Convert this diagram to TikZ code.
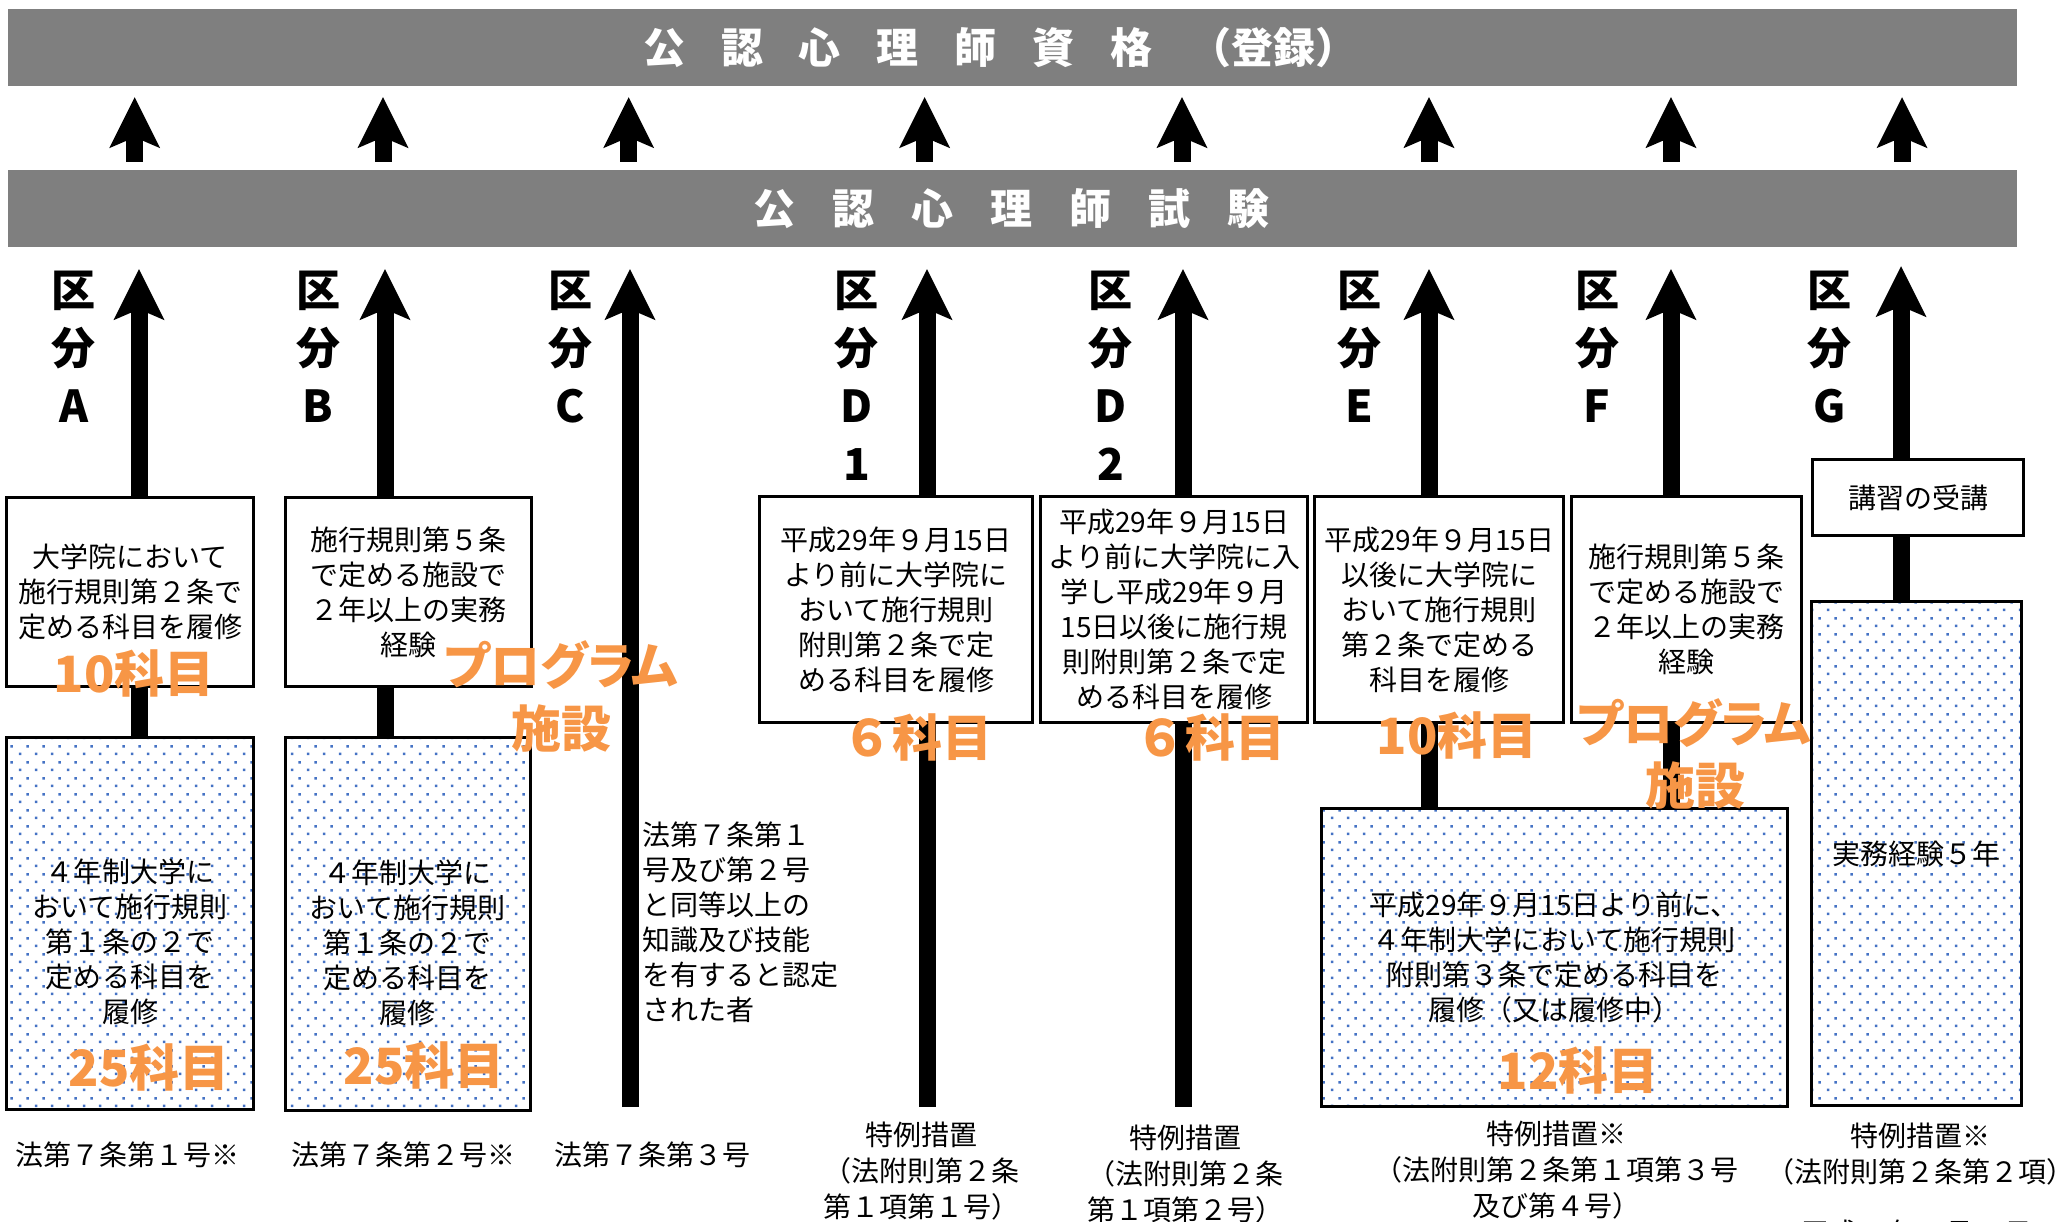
\documentclass[tikz,border=0pt]{standalone}
\usepackage{fontspec}
\setmainfont{Noto Sans CJK JP}
\newfontfamily\jpp{Noto Sans CJK JP}[RawFeature=+palt]
\usetikzlibrary{arrows.meta,patterns.meta,calc}
\definecolor{barg}{RGB}{127,127,127}
\definecolor{orng}{RGB}{247,150,70}
\definecolor{dotblue}{RGB}{68,114,196}
\tikzdeclarepattern{
  name=bluedots,
  type=uncolored,
  bottom left={(0pt,0pt)},
  top right={(16pt,16pt)},
  tile size={(16pt,16pt)},
  code={
    \pgfpathrectangle{\pgfqpoint{3pt}{3pt}}{\pgfqpoint{2.6pt}{2.6pt}}%
    \pgfpathrectangle{\pgfqpoint{11pt}{11pt}}{\pgfqpoint{2.6pt}{2.6pt}}%
    \pgfusepath{fill}%
  }
}
\begin{document}
\begin{tikzpicture}[x=1pt,y=-1pt,
  bar/.style={fill=barg, draw=none, minimum width=2009pt, minimum height=77pt, inner sep=0pt},
  headtxt/.style={text=white, font=\fontsize{42}{42}\selectfont\bfseries, inner sep=0pt},
  kubun/.style={font=\fontsize{44}{58}\selectfont\bfseries, align=center, inner sep=0pt},
  box/.style={draw=black, line width=3pt, inner sep=0pt, align=center, font=\fontsize{28}{35}\selectfont},
  dotbox/.style={box, pattern=bluedots, pattern color=dotblue},
  txt/.style={inner sep=0pt, align=center, font=\fontsize{28}{35}\selectfont},
  btxt/.style={inner sep=0pt, align=center, font=\fontsize{28}{36}\selectfont},
  num/.style={inner sep=0pt, text=orng, font=\fontsize{50}{56}\selectfont\bfseries},
  pnum/.style={inner sep=0pt, text=orng, font=\fontsize{50}{56}\selectfont\jpp\bfseries},
  arr/.style={line width=17pt, -{Stealth[length=51pt,width=51pt,inset=11pt,line width=0pt]}},
  shaft/.style={line width=17pt},
]
\useasboundingbox (0,0) rectangle (2071,1222);

% bars
\node[bar] (bar1) at (1012.5,47.5) {};
\node[bar] (bar2) at (1012.5,208.5) {};
\node[headtxt] (h1) at (1000,48) {公\hspace{36pt}認\hspace{36pt}心\hspace{36pt}理\hspace{36pt}師\hspace{36pt}資\hspace{36pt}格\hspace{36pt}（登録）};
\node[headtxt] (h2) at (1011.5,209) {公\hspace{37pt}認\hspace{37pt}心\hspace{37pt}理\hspace{37pt}師\hspace{37pt}試\hspace{37pt}験};

% top arrow columns
\foreach \n/\x in {tA/134.7, tB/383, tC/628.7, tD1/924.6, tD2/1182, tE/1429, tF/1671, tG/1902}
  \coordinate (\n) at (\x,0);
\foreach \n in {tA,tB,tC,tD1,tD2,tE,tF,tG}
  \draw[arr] ($(bar2.north -| \n)+(0,-8)$) -- ($(bar1.south -| \n)+(0,11)$);

% category columns
\coordinate (cA) at (139,0);
\coordinate (cB) at (385,0);
\coordinate (cD1) at (927,0);
\coordinate (cD2) at (1183,0);
\coordinate (cE) at (1429,0);
\coordinate (cF) at (1671,0);
\coordinate (cG) at (1901,0);
\coordinate (cbot) at (630,1107);
\coordinate (d1bot) at (927,1107);
\coordinate (d2bot) at (1183,1107);

% kubun labels
\node[kubun] (kA) at (73.7,347) {区\\分\\A};
\node[kubun] (kB) at (318,347) {区\\分\\B};
\node[kubun] (kC) at (570,347) {区\\分\\C};
\node[kubun] (kD1) at (856.6,376) {区\\分\\D\\1};
\node[kubun] (kD2) at (1110.7,376) {区\\分\\D\\2};
\node[kubun] (kE) at (1359,347) {区\\分\\E};
\node[kubun] (kF) at (1597,347) {区\\分\\F};
\node[kubun] (kG) at (1829.6,347) {区\\分\\G};

% boxes
\node[box, minimum width=247pt, minimum height=189pt] (A1) at (130.2,592.2) {大学院において\\施行規則第２条で\\定める科目を履修};
\node[box, minimum width=246pt, minimum height=189pt] (B1) at (408,592.2) {施行規則第５条\\で定める施設で\\２年以上の実務\\経験};
\node[dotbox, minimum width=247pt, minimum height=372pt] (A2) at (130,923) {};
\node[dotbox, minimum width=245pt, minimum height=373pt] (B2) at (407.5,923.5) {};
\node[txt] (A2t) at (130,942) {４年制大学に\\おいて施行規則\\第１条の２で\\定める科目を\\履修};
\node[txt] (B2t) at (407.5,943) {４年制大学に\\おいて施行規則\\第１条の２で\\定める科目を\\履修};
\node[box, minimum width=273pt, minimum height=226pt] (D1) at (896,609.7) {平成29年９月15日\\より前に大学院に\\おいて施行規則\\附則第２条で定\\める科目を履修};
\node[box, minimum width=267pt, minimum height=226pt] (D2) at (1174.3,609.7) {平成29年９月15日\\より前に大学院に入\\学し平成29年９月\\15日以後に施行規\\則附則第２条で定\\める科目を履修};
\node[box, minimum width=249pt, minimum height=226pt] (E1) at (1439.4,609.7) {平成29年９月15日\\以後に大学院に\\おいて施行規則\\第２条で定める\\科目を履修};
\node[box, minimum width=230pt, minimum height=226pt] (F1) at (1686.7,609.7) {施行規則第５条\\で定める施設で\\２年以上の実務\\経験};
\node[box, minimum width=211pt, minimum height=76pt] (G1) at (1918.3,497.9) {講習の受講};
\node[dotbox, minimum width=210pt, minimum height=504pt] (G2) at (1916,853.9) {実務経験５年};
\node[dotbox, minimum width=466pt, minimum height=298pt] (EF) at (1554,957.2) {平成29年９月15日より前に、\\４年制大学において施行規則\\附則第３条で定める科目を\\履修（又は履修中）};

% C text
\node[txt, align=left, anchor=west] (Ct) at (642,922.5) {法第７条第１\\号及び第２号\\と同等以上の\\知識及び技能\\を有すると認定\\された者};

% arrows to exam bar
\draw[arr] (A1.north -| cA) -- ($(bar2.south -| cA)+(0,22)$);
\draw[arr] (B1.north -| cB) -- ($(bar2.south -| cB)+(0,22)$);
\draw[arr] (cbot) -- ($(bar2.south -| cbot)+(0,22)$);
\draw[arr] (D1.north -| cD1) -- ($(bar2.south -| cD1)+(0,22)$);
\draw[arr] (D2.north -| cD2) -- ($(bar2.south -| cD2)+(0,22)$);
\draw[arr] (E1.north -| cE) -- ($(bar2.south -| cE)+(0,22)$);
\draw[arr] (F1.north -| cF) -- ($(bar2.south -| cF)+(0,22)$);
\draw[arr] (G1.north -| cG) -- ($(bar2.south -| cG)+(0,19)$);

% connectors
\draw[shaft] (A2.north -| cA) -- (A1.south -| cA);
\draw[shaft] (B2.north -| cB) -- (B1.south -| cB);
\draw[shaft] (D1.south -| d1bot) -- (d1bot);
\draw[shaft] (D2.south -| d2bot) -- (d2bot);
\draw[shaft] (EF.north -| cE) -- (E1.south -| cE);
\draw[shaft] (EF.north -| cF) -- (F1.south -| cF);
\draw[shaft] (G2.north -| cG) -- (G1.south -| cG);

% orange labels
\node[num] (n10A) at (134,673) {10科目};
\node[pnum] (pgB) at (561,665) {プログラム};
\node[num] (sB) at (561,728) {施設};
\node[num] (n25A) at (149,1067) {25科目};
\node[num] (n25B) at (424,1065) {25科目};
\node[num] (n6D1) at (917,737) {６科目};
\node[num] (n6D2) at (1210,737) {６科目};
\node[num] (n10E) at (1457,735) {10科目};
\node[pnum] (pgF) at (1694,723) {プログラム};
\node[num] (sF) at (1695,785) {施設};
\node[num] (n12) at (1578,1070) {12科目};

% bottom labels
\node[btxt] (LA) at (127,1155) {法第７条第１号※};
\node[btxt] (LB) at (403,1155) {法第７条第２号※};
\node[btxt] (LC) at (652,1155) {法第７条第３号};
\node[btxt] (LD1) at (921,1171) {特例措置\\（法附則第２条\\第１項第１号）};
\node[btxt] (LD2) at (1185,1174) {特例措置\\（法附則第２条\\第１項第２号）};
\node[btxt] (LE) at (1556,1170) {特例措置※\\（法附則第２条第１項第３号\\及び第４号）};
\node[btxt] (LG) at (1920,1154.5) {特例措置※\\（法附則第２条第２項）};
\node[btxt] (LG2) at (1917,1233) {平成29年９月15日};
\end{tikzpicture}
\end{document}
